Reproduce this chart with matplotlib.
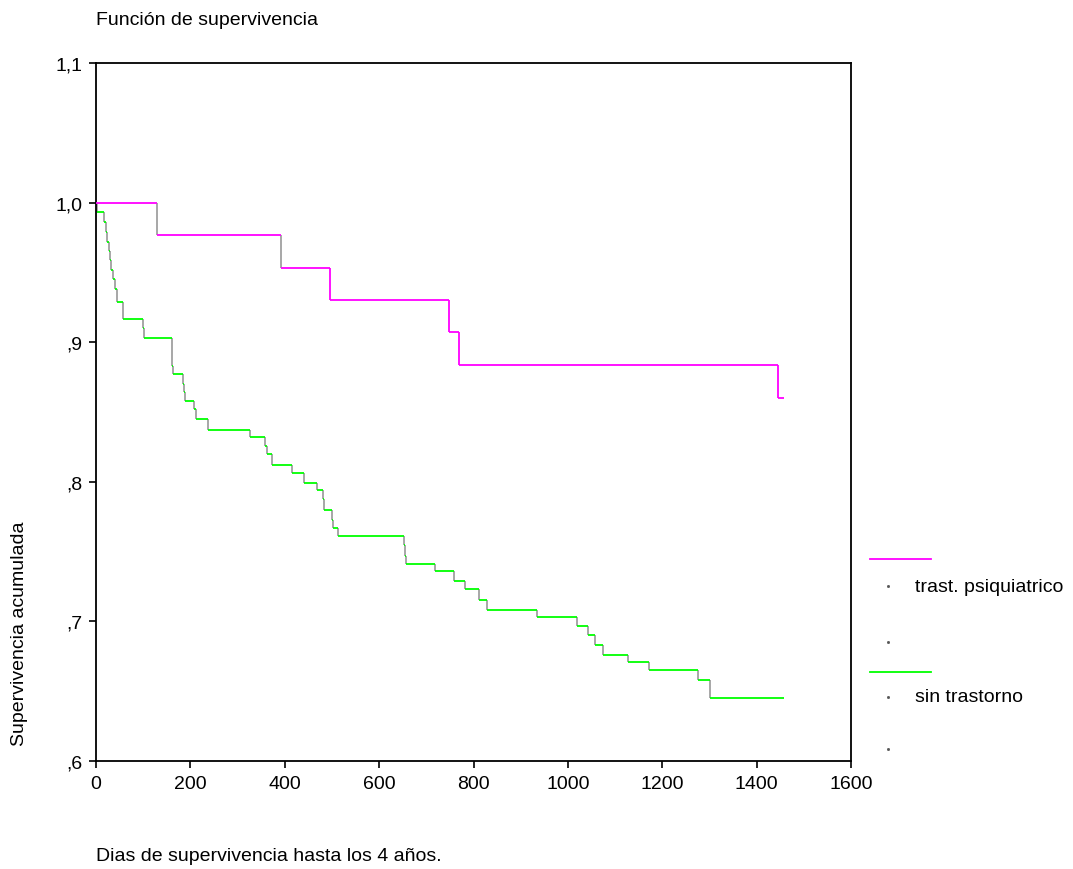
import numpy as np
import matplotlib
matplotlib.use('Agg')
import matplotlib.pyplot as plt

plt.rcParams['font.family'] = ['Liberation Sans', 'DejaVu Sans']

# curva de supervivencia, grupo con trastorno psiquiatrico
t_psiq = [0, 129, 392, 496, 748, 769, 1445, 1458]
s_psiq = [1.0, 0.977, 0.953, 0.930, 0.907, 0.884, 0.860, 0.860]

# curva de supervivencia, grupo sin trastorno
t_sin = [0, 3, 17, 22, 24, 28, 29, 32, 35, 40, 45, 58, 100, 102,
         160, 161, 162, 163, 185, 186, 189, 208, 211, 238, 326, 358, 362, 372,
         415, 441, 468, 480, 483, 500, 503, 513,
         653, 655, 657, 718, 759, 782, 812, 828, 935, 1020, 1043, 1057, 1074,
         1128, 1172, 1276, 1301, 1458]
s_sin = [1.0, 0.993, 0.986, 0.979, 0.972, 0.965, 0.959, 0.952, 0.945, 0.938, 0.929, 0.917, 0.910, 0.903,
         0.896, 0.889, 0.883, 0.877, 0.870, 0.864, 0.858, 0.852, 0.845, 0.837, 0.832, 0.826, 0.820, 0.812,
         0.806, 0.799, 0.794, 0.788, 0.780, 0.773, 0.767, 0.761,
         0.755, 0.747, 0.741, 0.736, 0.729, 0.723, 0.715, 0.708, 0.703, 0.697, 0.690, 0.683, 0.676,
         0.671, 0.665, 0.658, 0.645, 0.645]

xticks = [0, 200, 400, 600, 800, 1000, 1200, 1400, 1600]
yticks = [0.6, 0.7, 0.8, 0.9, 1.0, 1.1]
ylabels = [',6', ',7', ',8', ',9', '1,0', '1,1']

magenta = '#ff00ff'
green = '#00ff00'
grey = '#a0a0a0'
fs = 14

fig = plt.figure(figsize=(10.73, 8.7), dpi=100)
ax = fig.add_axes([0.0895, 0.1241, 0.7036, 0.8023])


def km(ax, t, s, color, grey_until):
    # tramos horizontales en color, verticales en gris (como SPSS)
    ax.hlines(s[:-1], t[:-1], t[1:], color=color, lw=1.3, zorder=3)
    for i in range(1, len(t) - 1):
        c = grey if t[i] <= grey_until else color
        ax.vlines(t[i], s[i], s[i - 1], color=c, lw=1.3, zorder=2)


km(ax, t_sin, s_sin, green, 2000)
km(ax, t_psiq, s_psiq, magenta, 400)

ax.set_xlim(0, 1600)
ax.set_ylim(0.6, 1.1)
ax.set_xticks(xticks)
ax.set_yticks(yticks)
ax.set_yticklabels(ylabels)
ax.tick_params(direction='out', length=5, width=1.2, labelsize=fs, colors='black', pad=5)
for sp in ax.spines.values():
    sp.set_linewidth(1.3)

fig.text(0.0895, 0.977, 'Función de supervivencia', fontsize=fs, ha='left', va='center')
fig.text(0.0895, 0.015, 'Dias de supervivencia hasta los 4 años.', fontsize=fs, ha='left', va='center')
fig.text(0.0186, 0.272, 'Supervivencia acumulada', fontsize=fs, rotation=90, ha='center', va='center')

# leyenda a mano, fuera de los ejes
fig.add_artist(plt.Line2D([870 / 1073, 931 / 1073], [1 - 560 / 870] * 2, color=magenta, lw=1.3))
fig.add_artist(plt.Line2D([870 / 1073, 931 / 1073], [1 - 673 / 870] * 2, color=green, lw=1.3))
fig.text(915 / 1073, 1 - 587 / 870, 'trast. psiquiatrico', fontsize=fs, ha='left', va='center')
fig.text(915 / 1073, 1 - 698 / 870, 'sin trastorno', fontsize=fs, ha='left', va='center')
for yy in [587, 643, 698, 750]:
    fig.add_artist(plt.Line2D([888 / 1073], [1 - yy / 870], marker='s', ms=1, color='#555555', lw=0))

fig.savefig('out.png', dpi=100)
